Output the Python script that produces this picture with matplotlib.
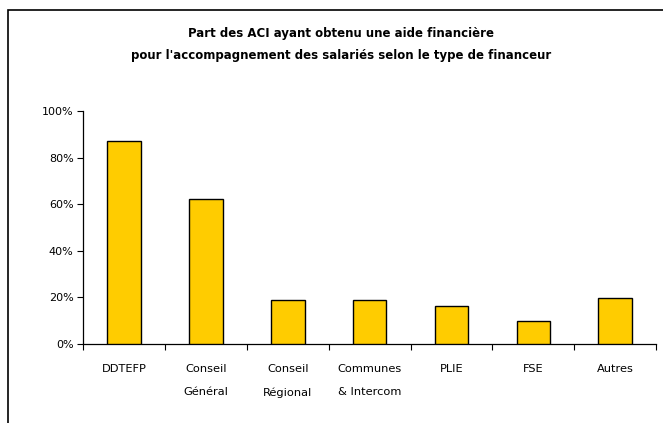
import numpy as np
import matplotlib
matplotlib.use("Agg")
import matplotlib.pyplot as plt
from matplotlib.patches import Rectangle
from matplotlib.ticker import PercentFormatter

# financeurs et part des ACI (%)
categories = ["DDTEFP", "Conseil\nGénéral", "Conseil\nRégional", "Communes\n& Intercom",
              "PLIE", "FSE", "Autres"]
values = [87.3, 62.2, 19.0, 19.0, 16.3, 10.0, 19.9]
y_ticks = [0, 20, 40, 60, 80, 100]

title = ("Part des ACI ayant obtenu une aide financière\n"
         "pour l'accompagnement des salariés selon le type de financeur")

W, H = 663, 423
fig = plt.figure(figsize=(W / 100, H / 100), dpi=100)
ax = fig.add_axes([83.3 / W, 1 - 344 / H, (656 - 83.3) / W, (344 - 111.3) / H])

x = np.arange(len(categories))
ax.bar(x, values, width=0.41, color="#FFCC00", edgecolor="black", linewidth=1.0, zorder=3)

ax.set_xlim(-0.5, len(categories) - 0.5)
ax.set_ylim(0, 100)
ax.set_yticks(y_ticks)
ax.yaxis.set_major_formatter(PercentFormatter(decimals=0))
ax.tick_params(axis="y", labelsize=8, length=4, width=0.8, pad=3, color="black")

# category labels between boundary ticks
ax.set_xticks(np.arange(len(categories) + 1) - 0.5)
ax.set_xticklabels([])
ax.tick_params(axis="x", length=4, width=0.8, color="black")
for i, lab in enumerate(categories):
    ax.text(i, -0.085, lab, transform=ax.get_xaxis_transform(), ha="center", va="top",
            fontsize=8.2, linespacing=2.6)

for s in ["top", "right"]:
    ax.spines[s].set_visible(False)
ax.spines["left"].set_linewidth(0.9)
ax.spines["bottom"].set_linewidth(0.9)

fig.text(341 / W, 1 - 27 / H, title, ha="center", va="top", fontsize=8.5,
         fontweight="bold", linespacing=1.9)

# cadre du graphique (coupé à droite et en bas)
fig.patches.append(Rectangle((8 / W, -0.1), 1.2, (H - 10) / H + 0.1, transform=fig.transFigure,
                             fill=False, edgecolor="black", linewidth=1.2))

fig.savefig("out.png", dpi=100)
